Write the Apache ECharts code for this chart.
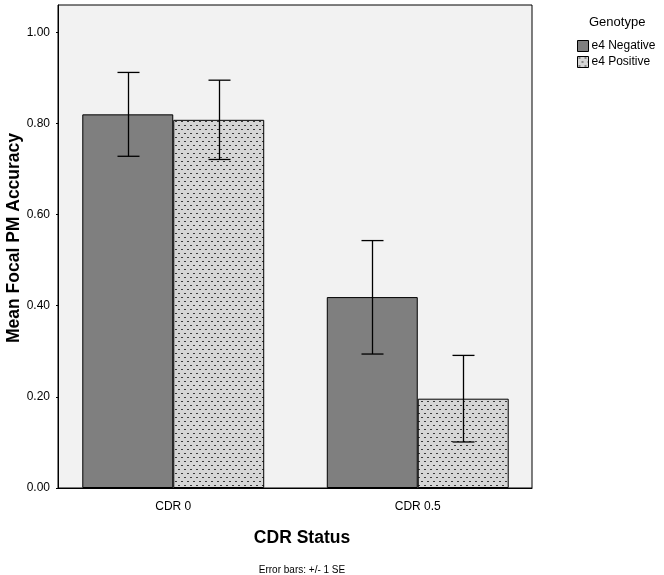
<!DOCTYPE html>
<html>
<head>
<meta charset="utf-8">
<script src="https://cdn.jsdelivr.net/npm/echarts@6/dist/echarts.min.js"></script>
<style>
  html, body { margin: 0; padding: 0; background: #fff; }
  #chart { width: 664px; height: 575px; }
</style>
</head>
<body>
<div id="chart"></div>
<script>
// data
const categories = ['CDR 0', 'CDR 0.5']
const seriesNames = ['e4 Negative', 'e4 Positive']
const meanNeg = [0.820, 0.419]
const meanPos = [0.808, 0.196]
const errLowNeg = [0.728, 0.294]
const errHighNeg = [0.912, 0.543]
const errLowPos = [0.721, 0.101]
const errHighPos = [0.895, 0.291]

const BAR_PCT = 0.372
const Y_MAX = 1.06

// dotted fill for e4 Positive
function makeDots () {
  const c = document.createElement('canvas')
  c.width = 6
  c.height = 8
  const ctx = c.getContext('2d')
  ctx.fillStyle = '#d6d6d6'
  ctx.fillRect(0, 0, 6, 8)
  ctx.fillStyle = '#3a3a3a'
  ctx.fillRect(1, 1, 2, 1)
  ctx.fillRect(4, 5, 2, 1)
  return c
}
const dots = { image: makeDots(), repeat: 'repeat' }

function errorSeries (low, high, side) {
  const data = low.map((v, i) => [i, v, high[i]])
  return {
    type: 'custom',
    xAxisIndex: 1,
    yAxisIndex: 1,
    z: 10,
    silent: true,
    data: data,
    renderItem: function (params, api) {
      const band = api.size([1, 0])[0]
      const off = side * band * BAR_PCT / 2
      const lo = api.coord([api.value(0), api.value(1)])
      const hi = api.coord([api.value(0), api.value(2)])
      const x = Math.round(lo[0] + off) + 0.5
      const cap = 11
      const style = { stroke: '#000', lineWidth: 1.3 }
      return {
        type: 'group',
        children: [
          { type: 'line', shape: { x1: x, y1: hi[1], x2: x, y2: lo[1] }, style: style },
          { type: 'line', shape: { x1: x - cap, y1: hi[1], x2: x + cap, y2: hi[1] }, style: style },
          { type: 'line', shape: { x1: x - cap, y1: lo[1], x2: x + cap, y2: lo[1] }, style: style }
        ]
      }
    }
  }
}

const chart = echarts.init(document.getElementById('chart'))
const option = {
  animation: false,
  textStyle: { fontFamily: 'Liberation Sans, Arial, sans-serif' },
  grid: [
    {
      // framed plot box
      left: 58,
      right: 132,
      top: 5,
      bottom: 87,
      outerBoundsMode: 'none',
      show: true,
      backgroundColor: '#f2f2f2',
      borderColor: '#000',
      borderWidth: 1
    },
    {
      // bars sit a bit wider than the frame, like the original
      left: 51,
      right: 124,
      top: 5,
      bottom: 87,
      outerBoundsMode: 'none'
    }
  ],
  title: [
    {
      text: 'Genotype',
      left: 584,
      top: 11,
      textStyle: { fontSize: 13, fontWeight: 'normal', color: '#000' }
    },
    {
      text: 'CDR Status',
      left: 297,
      textAlign: 'center',
      top: 524,
      textStyle: { fontSize: 17.5, fontWeight: 'bold', color: '#000' }
    },
    {
      text: 'Error bars: +/- 1 SE',
      left: 297,
      textAlign: 'center',
      top: 560,
      textStyle: { fontSize: 10, fontWeight: 'normal', color: '#000' }
    }
  ],
  graphic: [
    {
      // y axis title
      type: 'text',
      x: 14,
      y: 238,
      rotation: Math.PI / 2,
      style: {
        text: 'Mean Focal PM Accuracy',
        font: 'bold 17.5px Liberation Sans, Arial, sans-serif',
        fill: '#000',
        align: 'center',
        verticalAlign: 'middle'
      }
    }
  ],
  legend: {
    orient: 'vertical',
    left: 577,
    top: 40,
    padding: 0,
    itemWidth: 11,
    itemHeight: 11,
    itemGap: 4,
    icon: 'rect',
    itemStyle: { borderColor: '#000', borderWidth: 1 },
    textStyle: { fontSize: 12, color: '#000', padding: [0, 0, 0, -2] },
    data: seriesNames
  },
  xAxis: [
    {
      type: 'category',
      gridIndex: 0,
      data: categories,
      axisLine: { show: true, lineStyle: { color: '#000' } },
      axisTick: { show: false },
      axisLabel: { show: false }
    },
    {
      type: 'category',
      gridIndex: 1,
      data: categories,
      axisLine: { show: false },
      axisTick: { show: false },
      axisLabel: { margin: 13, fontSize: 12, color: '#000' }
    }
  ],
  yAxis: [
    {
      type: 'value',
      gridIndex: 0,
      min: 0,
      max: Y_MAX,
      interval: 0.2,
      splitLine: { show: false },
      axisLine: { show: true, lineStyle: { color: '#000' } },
      axisTick: { show: true, length: 2, lineStyle: { color: '#000' } },
      axisLabel: {
        margin: 8,
        fontSize: 12,
        color: '#000',
        showMaxLabel: false,
        formatter: function (v) { return v.toFixed(2) }
      }
    },
    {
      type: 'value',
      gridIndex: 1,
      min: 0,
      max: Y_MAX,
      show: false
    }
  ],
  series: [
    {
      name: seriesNames[0],
      type: 'bar',
      xAxisIndex: 1,
      yAxisIndex: 1,
      data: meanNeg,
      barWidth: (BAR_PCT * 100) + '%',
      barGap: '0%',
      itemStyle: { color: '#7f7f7f', borderColor: '#000', borderWidth: 1 }
    },
    {
      name: seriesNames[1],
      type: 'bar',
      xAxisIndex: 1,
      yAxisIndex: 1,
      data: meanPos,
      barWidth: (BAR_PCT * 100) + '%',
      barGap: '0%',
      itemStyle: { color: dots, borderColor: '#000', borderWidth: 1 }
    },
    errorSeries(errLowNeg, errHighNeg, -1),
    errorSeries(errLowPos, errHighPos, 1)
  ]
}
chart.setOption(option)
</script>
</body>
</html>
